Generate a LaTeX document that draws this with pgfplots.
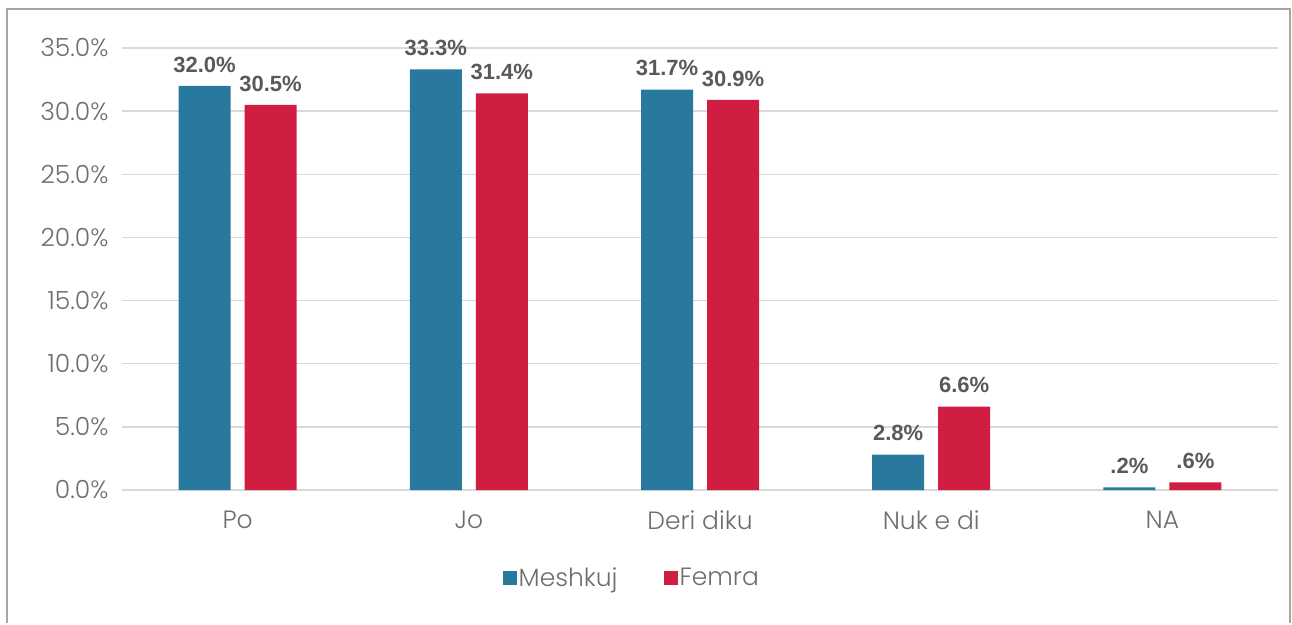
\documentclass[border=0pt]{standalone}
\usepackage{pgfplots}
\pgfplotsset{compat=1.18}
\usepackage{fontspec}
\setmainfont{Poppins}[UprightFont=* Light]
\newfontfamily\lab{Liberation Sans}
\definecolor{cblue}{HTML}{29799E}
\definecolor{cred}{HTML}{D01E42}
\definecolor{tgray}{HTML}{6E6E70}
\definecolor{lgray}{HTML}{595959}
\definecolor{ggray}{HTML}{D9D9D9}
\definecolor{fgray}{HTML}{A6A6A6}
\begin{document}
\begin{tikzpicture}
\begin{axis}[
  name=ax,
  at={(0,0)}, anchor=south west,
  scale only axis,
  width=1156bp, height=442bp,
  xmin=-0.5, xmax=4.5,
  ymin=0, ymax=35,
  ybar=14bp, bar width=52bp,
  axis line style={draw=none},
  major tick length=0pt,
  xtick={0,1,2,3,4},
  xticklabels={Po,Jo,Deri diku,Nuk e di,NA},
  ytick={0,5,10,15,20,25,30,35},
  yticklabels={0.0\%,5.0\%,10.0\%,15.0\%,20.0\%,25.0\%,30.0\%,35.0\%},
  ymajorgrids,
  grid style={ggray, line width=1.5bp},
  ticklabel style={font=\fontsize{25bp}{30bp}\selectfont, text=tgray},
  yticklabel style={anchor=east, xshift=-10bp},
  xticklabel style={anchor=north, yshift=-17bp},
  point meta=explicit symbolic,
  nodes near coords,
  nodes near coords style={font=\lab\bfseries\fontsize{22bp}{26bp}\selectfont, text=lgray, anchor=south, yshift=10bp},
  legend columns=2,
  legend style={at={(0.441,-0.199)}, anchor=center, draw=none, fill=none,
    font=\fontsize{25bp}{30bp}\selectfont, text=tgray,
    /tikz/every even column/.append style={column sep=44bp}},
  legend image code/.code={\fill[#1] (0bp,-7bp) rectangle (14bp,7bp);},
]
\addplot[fill=cblue, draw=none] coordinates {
  (0,32.0) [32.0\%]
  (1,33.3) [33.3\%]
  (2,31.7) [31.7\%]
  (3,2.8) [2.8\%]
  (4,0.2) [.2\%]
};
\addplot[fill=cred, draw=none] coordinates {
  (0,30.5) [30.5\%]
  (1,31.4) [31.4\%]
  (2,30.9) [30.9\%]
  (3,6.6) [6.6\%]
  (4,0.6) [.6\%]
};
\legend{Meshkuj,Femra}
\end{axis}
\path ([shift={(-122bp,-133bp)}]ax.south west) rectangle ([shift={(14bp,48bp)}]ax.north east);
\draw[fgray, line width=2bp] ([shift={(-115bp,-133bp)}]ax.south west) -- ([shift={(-115bp,39bp)}]ax.north west) -- ([shift={(12bp,39bp)}]ax.north east) -- ([shift={(12bp,-133bp)}]ax.south east);
\end{tikzpicture}
\end{document}
